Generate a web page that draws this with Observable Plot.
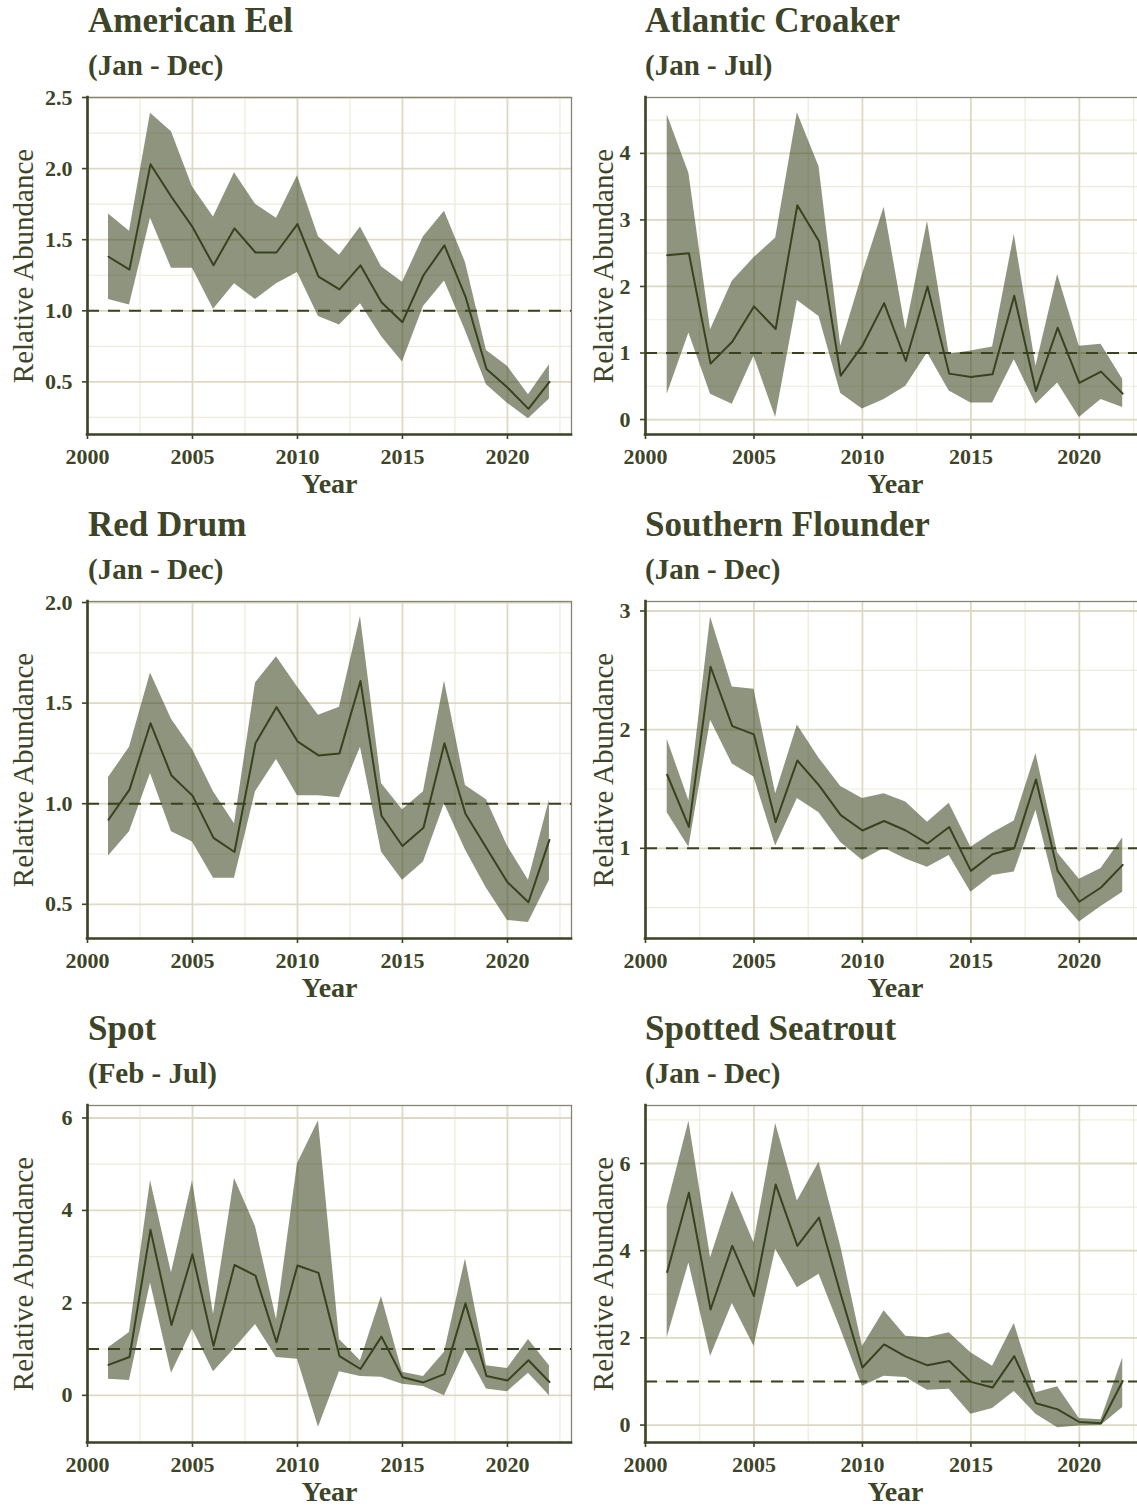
<!DOCTYPE html>
<html>
<head>
<meta charset="utf-8">
<script src="https://cdn.jsdelivr.net/npm/d3@7"></script>
<script src="https://cdn.jsdelivr.net/npm/@observablehq/plot@0.6"></script>
<style>
  html, body { margin: 0; padding: 0; background: #ffffff; overflow: hidden; }
  #figure { position: relative; width: 1137px; height: 1508px; overflow: hidden;
            font-family: "Liberation Serif", "DejaVu Serif", serif; color: #3d4427; }
  .title { position: absolute; font-weight: bold; font-size: 35px; line-height: 35px; white-space: nowrap; }
  .sub { position: absolute; font-weight: bold; font-size: 29px; line-height: 29px; white-space: nowrap; }
  .panel { position: absolute; }
  .panel svg { max-width: none !important; }
</style>
</head>
<body>
<div id="figure"></div>
<script>
// Survey years shared by every species
const years = [2001, 2002, 2003, 2004, 2005, 2006, 2007, 2008, 2009, 2010, 2011,
               2012, 2013, 2014, 2015, 2016, 2017, 2018, 2019, 2020, 2021, 2022];

// Species names and sampling months
const speciesNames = ["American Eel", "Atlantic Croaker", "Red Drum", "Southern Flounder", "Spot", "Spotted Seatrout"];
const seasons = ["(Jan - Dec)", "(Jan - Jul)", "(Jan - Dec)", "(Jan - Dec)", "(Feb - Jul)", "(Jan - Dec)"];

// Relative abundance index with lower / upper confidence bounds
const eelEst = [1.38, 1.29, 2.03, 1.80, 1.59, 1.32, 1.58, 1.41, 1.41, 1.61, 1.24, 1.15, 1.32, 1.06, 0.92, 1.25, 1.46, 1.10, 0.59, 0.46, 0.31, 0.50];
const eelLo  = [1.08, 1.04, 1.65, 1.30, 1.30, 1.01, 1.19, 1.08, 1.19, 1.27, 0.96, 0.90, 1.05, 0.82, 0.64, 1.03, 1.21, 0.86, 0.48, 0.35, 0.24, 0.38];
const eelHi  = [1.68, 1.56, 2.39, 2.26, 1.87, 1.66, 1.97, 1.75, 1.65, 1.95, 1.52, 1.39, 1.59, 1.31, 1.20, 1.52, 1.70, 1.34, 0.72, 0.61, 0.41, 0.62];

const croakerEst = [2.47, 2.50, 0.84, 1.17, 1.70, 1.36, 3.22, 2.68, 0.66, 1.11, 1.75, 0.88, 2.00, 0.69, 0.64, 0.68, 1.86, 0.43, 1.38, 0.55, 0.72, 0.39];
const croakerLo  = [0.38, 1.30, 0.38, 0.23, 0.95, 0.03, 1.79, 1.55, 0.39, 0.16, 0.30, 0.50, 1.00, 0.43, 0.25, 0.25, 0.90, 0.23, 0.55, 0.03, 0.30, 0.18];
const croakerHi  = [4.58, 3.70, 1.35, 2.08, 2.43, 2.73, 4.61, 3.80, 1.10, 2.18, 3.19, 1.35, 2.98, 0.98, 1.03, 1.09, 2.78, 0.80, 2.18, 1.10, 1.13, 0.60];

const drumEst = [0.92, 1.07, 1.40, 1.14, 1.04, 0.83, 0.76, 1.30, 1.48, 1.31, 1.24, 1.25, 1.61, 0.94, 0.79, 0.88, 1.30, 0.95, 0.78, 0.61, 0.51, 0.82];
const drumLo  = [0.74, 0.86, 1.15, 0.86, 0.81, 0.63, 0.63, 1.06, 1.22, 1.04, 1.04, 1.03, 1.28, 0.76, 0.62, 0.71, 1.00, 0.77, 0.58, 0.42, 0.41, 0.62];
const drumHi  = [1.13, 1.28, 1.65, 1.42, 1.27, 1.06, 0.90, 1.60, 1.73, 1.58, 1.44, 1.48, 1.93, 1.10, 0.97, 1.06, 1.61, 1.09, 1.02, 0.79, 0.62, 1.02];

const flounderEst = [1.62, 1.18, 2.53, 2.03, 1.96, 1.22, 1.74, 1.53, 1.28, 1.15, 1.23, 1.15, 1.04, 1.18, 0.81, 0.95, 1.00, 1.58, 0.81, 0.55, 0.67, 0.86];
const flounderLo  = [1.30, 1.01, 2.08, 1.71, 1.60, 1.02, 1.42, 1.30, 1.05, 0.90, 1.00, 0.91, 0.84, 0.94, 0.63, 0.77, 0.80, 1.32, 0.59, 0.38, 0.51, 0.63];
const flounderHi  = [1.92, 1.40, 2.95, 2.36, 2.34, 1.46, 2.04, 1.76, 1.52, 1.42, 1.46, 1.39, 1.22, 1.38, 1.01, 1.13, 1.23, 1.80, 0.96, 0.74, 0.83, 1.09];

const spotEst = [0.66, 0.83, 3.58, 1.52, 3.05, 1.07, 2.82, 2.59, 1.15, 2.81, 2.65, 0.85, 0.57, 1.27, 0.39, 0.28, 0.46, 1.99, 0.42, 0.32, 0.76, 0.29];
const spotLo  = [0.35, 0.32, 2.43, 0.48, 1.43, 0.51, 1.01, 1.53, 0.82, 0.78, -0.69, 0.51, 0.41, 0.39, 0.24, 0.19, -0.01, 0.98, 0.14, 0.08, 0.48, -0.01];
const spotHi  = [1.03, 1.36, 4.65, 2.65, 4.64, 1.75, 4.69, 3.65, 1.64, 5.01, 5.94, 1.21, 0.75, 2.14, 0.50, 0.41, 0.93, 2.95, 0.64, 0.58, 1.21, 0.64];

const seatroutEst = [3.51, 5.33, 2.65, 4.11, 2.96, 5.52, 4.11, 4.76, 3.00, 1.32, 1.85, 1.57, 1.37, 1.47, 0.99, 0.86, 1.58, 0.50, 0.36, 0.07, 0.04, 1.01];
const seatroutLo  = [2.00, 3.72, 1.57, 2.79, 1.81, 4.03, 3.15, 3.46, 2.20, 0.89, 1.12, 1.09, 0.80, 0.82, 0.25, 0.38, 0.77, 0.25, -0.06, -0.02, -0.01, 0.40];
const seatroutHi  = [5.02, 6.97, 3.84, 5.37, 4.18, 6.92, 5.14, 6.03, 4.10, 1.80, 2.62, 2.04, 2.00, 2.12, 1.66, 1.35, 2.33, 0.74, 0.88, 0.15, 0.12, 1.54];

// Axis ticks
const xMajor = [2000, 2005, 2010, 2015, 2020];
const xMinor = [2002.5, 2007.5, 2012.5, 2017.5, 2022.5];
const yTicks = [
  [0.5, 1.0, 1.5, 2.0, 2.5],
  [0, 1, 2, 3, 4],
  [0.5, 1.0, 1.5, 2.0],
  [1, 2, 3],
  [0, 2, 4, 6],
  [0, 2, 4, 6]
];
const yMinor = [
  [0.25, 0.75, 1.25, 1.75, 2.25],
  [0.5, 1.5, 2.5, 3.5, 4.5],
  [0.75, 1.25, 1.75],
  [0.5, 1.5, 2.5],
  [1, 3, 5],
  [1, 3, 5, 7]
];
const yDomains = [[0.13, 2.5], [-0.225, 4.84], [0.33, 2.005], [0.24, 3.08], [-1.02, 6.27], [-0.40, 7.33]];
const yFormats = [".1f", "d", ".1f", "d", "d", "d"];

const estimates = [eelEst, croakerEst, drumEst, flounderEst, spotEst, seatroutEst];
const lowers = [eelLo, croakerLo, drumLo, flounderLo, spotLo, seatroutLo];
const uppers = [eelHi, croakerHi, drumHi, flounderHi, spotHi, seatroutHi];

// Colours
const ink = "#3d4427";
const lineInk = "#39421f";
const ribbon = "#3d4621";
const gridMajor = "#ddd9c2";
const gridMinor = "#ecebdc";
const border = "#838672";

// Page geometry for the two columns and three rows
const columns = [
  {left: 0, marginLeft: 87, frameWidth: 484, marginRight: 10, titleX: 88},
  {left: 580, marginLeft: 65, frameWidth: 500, marginRight: 0, titleX: 645}
];
const rowStep = 504;
const frameTop = 97;
const frameHeight = 337;
const marginTop = 10;
const marginBottom = 74;

const figure = document.getElementById("figure");

speciesNames.forEach((name, i) => {
  const col = columns[i % 2];
  const row = Math.floor(i / 2);
  const offset = row * rowStep;

  const data = years.map((year, k) => ({year, est: estimates[i][k], lo: lowers[i][k], hi: uppers[i][k]}));
  const domain = yDomains[i];
  const fmt = d3.format(yFormats[i]);
  const width = col.marginLeft + col.frameWidth + col.marginRight;
  const height = marginTop + frameHeight + marginBottom;

  const title = document.createElement("div");
  title.className = "title";
  title.style.left = col.titleX + "px";
  title.style.top = (offset + 3) + "px";
  title.textContent = name;
  figure.appendChild(title);

  const sub = document.createElement("div");
  sub.className = "sub";
  sub.style.left = col.titleX + "px";
  sub.style.top = (offset + 50.7) + "px";
  sub.textContent = seasons[i];
  figure.appendChild(sub);

  const chart = Plot.plot({
    width,
    height,
    marginTop,
    marginBottom,
    marginLeft: col.marginLeft,
    marginRight: col.marginRight,
    style: {
      fontFamily: "'Liberation Serif', 'DejaVu Serif', serif",
      fontSize: "21px",
      color: ink,
      background: "transparent",
      overflow: "visible",
      maxWidth: "none"
    },
    x: {domain: [2000, 2023.05]},
    y: {domain},
    marks: [
      Plot.gridX(xMinor, {stroke: gridMinor, strokeOpacity: 1, strokeWidth: 1.2}),
      Plot.gridY(yMinor[i], {stroke: gridMinor, strokeOpacity: 1, strokeWidth: 1.2}),
      Plot.gridX(xMajor, {stroke: gridMajor, strokeOpacity: 1, strokeWidth: 1.8}),
      Plot.gridY(yTicks[i], {stroke: gridMajor, strokeOpacity: 1, strokeWidth: 1.8}),
      Plot.frame({stroke: border, strokeWidth: 1.3}),
      Plot.areaY(data, {x: "year", y1: "lo", y2: "hi", fill: ribbon, fillOpacity: 0.58}),
      Plot.ruleY([1], {stroke: lineInk, strokeWidth: 2, strokeDasharray: "12,9"}),
      Plot.lineY(data, {x: "year", y: "est", stroke: lineInk, strokeWidth: 2}),
      Plot.ruleX([2000], {stroke: ink, strokeWidth: 2.6, strokeLinecap: "square"}),
      Plot.ruleY([domain[0]], {stroke: ink, strokeWidth: 2.6, strokeLinecap: "square"}),
      Plot.axisX(xMajor, {
        tickSize: 5, tickPadding: 9, stroke: ink, strokeWidth: 1.6,
        fontWeight: "bold", fontSize: 22, label: null, tickFormat: "d"
      }),
      Plot.axisY(yTicks[i], {
        tickSize: 5, tickPadding: 10, stroke: ink, strokeWidth: 1.6,
        fontWeight: "bold", fontSize: 22, label: null, tickFormat: fmt
      }),
      Plot.text(["Relative Abundance"], {
        frameAnchor: "left", text: d => d, rotate: -90,
        dx: -(col.marginLeft - 23), fontSize: 29, fontWeight: "normal",
        fill: ink, textAnchor: "middle", lineAnchor: "middle"
      }),
      Plot.text(["Year"], {
        frameAnchor: "bottom", text: d => d, dy: 50,
        fontSize: 28, fontWeight: "bold", fill: ink,
        textAnchor: "middle", lineAnchor: "middle"
      })
    ]
  });
  chart.style.maxWidth = "none";
  chart.style.width = width + "px";
  chart.style.height = height + "px";

  const holder = document.createElement("div");
  holder.className = "panel";
  holder.style.left = col.left + "px";
  holder.style.top = (offset + frameTop - marginTop) + "px";
  holder.style.width = width + "px";
  holder.style.height = height + "px";
  holder.appendChild(chart);
  figure.appendChild(holder);
});
</script>
</body>
</html>
